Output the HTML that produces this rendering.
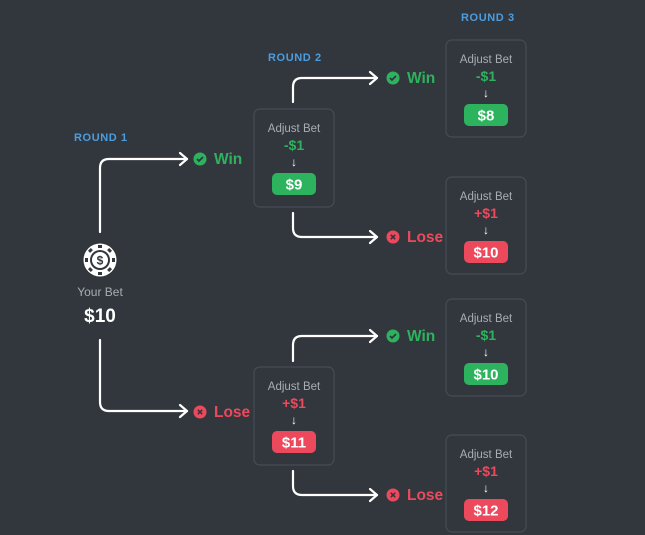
<!DOCTYPE html>
<html><head><meta charset="utf-8"><style>
html,body{margin:0;padding:0;background:#32373e;}
svg{display:block;font-family:"Liberation Sans",sans-serif;}
</style></head><body>
<svg width="645" height="535" viewBox="0 0 645 535" xmlns="http://www.w3.org/2000/svg">
<rect width="645" height="535" fill="#32373e"/>
<defs>
<g id="chk"><circle r="6.5" fill="#2db35d"/><path d="M-3,0 L-1,2 L3,-2" stroke="#32373e" stroke-width="1.8" fill="none"/></g>
<g id="x"><circle r="6.5" fill="#ec4a5c"/><path d="M-2.2,-2.2 L2.2,2.2 M2.2,-2.2 L-2.2,2.2" stroke="#32373e" stroke-width="1.6"/></g>
</defs>
<g font-weight="bold" font-size="11" fill="#4b9de0" letter-spacing="0.6">
<text x="74" y="141">ROUND 1</text>
<text x="268" y="61">ROUND 2</text>
<text x="461" y="21">ROUND 3</text>
</g>
<g stroke="#fff" stroke-width="2.2" fill="none" stroke-linecap="round" stroke-linejoin="round">
<path d="M100,232 V168 Q100,159 109,159 H187"/><path d="M180,153 L187,159 L180,165"/>
<path d="M100,340 V402 Q100,411 109,411 H187"/><path d="M180,405 L187,411 L180,417"/>
<path d="M293,102 V87 Q293,78 302,78 H377"/><path d="M370,72 L377,78 L370,84"/>
<path d="M293,213 V228 Q293,237 302,237 H377"/><path d="M370,231 L377,237 L370,243"/>
<path d="M293,361 V345 Q293,336 302,336 H377"/><path d="M370,330 L377,336 L370,342"/>
<path d="M293,471 V486 Q293,495 302,495 H377"/><path d="M370,489 L377,495 L370,501"/>
</g>
<g font-weight="bold" font-size="15.5">
<use href="#chk" x="200" y="159"/><text x="214" y="164" fill="#2db35d">Win</text>
<use href="#x" x="200" y="412"/><text x="214" y="417" fill="#ec4a5c">Lose</text>
<use href="#chk" x="393" y="78"/><text x="407" y="83" fill="#2db35d">Win</text>
<use href="#x" x="393" y="237"/><text x="407" y="242" fill="#ec4a5c">Lose</text>
<use href="#chk" x="393" y="336"/><text x="407" y="341" fill="#2db35d">Win</text>
<use href="#x" x="393" y="495"/><text x="407" y="500" fill="#ec4a5c">Lose</text>
</g>
<g transform="translate(100,260)">
<circle r="16.5" fill="#fff"/>
<circle r="10" fill="#32373e"/>
<circle r="8" fill="#fff"/>
<g fill="#32373e"><rect x="-2" y="-15" width="4" height="3"/><rect x="-2" y="12" width="4" height="3"/><rect x="-15" y="-2" width="3" height="4"/><rect x="12" y="-2" width="3" height="4"/>
<rect x="-2" y="-15" width="4" height="3" transform="rotate(45)"/><rect x="-2" y="12" width="4" height="3" transform="rotate(45)"/><rect x="-2" y="-15" width="4" height="3" transform="rotate(-45)"/><rect x="-2" y="12" width="4" height="3" transform="rotate(-45)"/></g>
<text y="4.5" text-anchor="middle" font-size="12" font-weight="bold" fill="#32373e">$</text>
</g>
<text x="100" y="296" text-anchor="middle" font-size="12" fill="#a9adb3">Your Bet</text>
<text x="100" y="322" text-anchor="middle" font-size="19" font-weight="bold" fill="#fff">$10</text>
<g text-anchor="middle">
<g transform="translate(254,109)"><rect x="0" y="0" width="80" height="98" rx="6" fill="none" stroke="#474c54" stroke-width="1.2"/><text x="40" y="23" font-size="11.5" fill="#a9adb3">Adjust Bet</text><text x="40" y="41" font-size="14" font-weight="bold" fill="#2db35d">-$1</text><text x="40" y="57" font-size="12" font-weight="bold" fill="#fff">↓</text><rect x="18" y="64" width="44" height="22" rx="5" fill="#2db35d"/><text x="40" y="80.5" font-size="15" font-weight="bold" fill="#fff">$9</text></g>
<g transform="translate(254,367)"><rect x="0" y="0" width="80" height="98" rx="6" fill="none" stroke="#474c54" stroke-width="1.2"/><text x="40" y="23" font-size="11.5" fill="#a9adb3">Adjust Bet</text><text x="40" y="41" font-size="14" font-weight="bold" fill="#ec4a5c">+$1</text><text x="40" y="57" font-size="12" font-weight="bold" fill="#fff">↓</text><rect x="18" y="64" width="44" height="22" rx="5" fill="#ec4a5c"/><text x="40" y="80.5" font-size="15" font-weight="bold" fill="#fff">$11</text></g>
<g transform="translate(446,40)"><rect x="0" y="0" width="80" height="97" rx="6" fill="none" stroke="#474c54" stroke-width="1.2"/><text x="40" y="23" font-size="11.5" fill="#a9adb3">Adjust Bet</text><text x="40" y="41" font-size="14" font-weight="bold" fill="#2db35d">-$1</text><text x="40" y="57" font-size="12" font-weight="bold" fill="#fff">↓</text><rect x="18" y="64" width="44" height="22" rx="5" fill="#2db35d"/><text x="40" y="80.5" font-size="15" font-weight="bold" fill="#fff">$8</text></g>
<g transform="translate(446,177)"><rect x="0" y="0" width="80" height="97" rx="6" fill="none" stroke="#474c54" stroke-width="1.2"/><text x="40" y="23" font-size="11.5" fill="#a9adb3">Adjust Bet</text><text x="40" y="41" font-size="14" font-weight="bold" fill="#ec4a5c">+$1</text><text x="40" y="57" font-size="12" font-weight="bold" fill="#fff">↓</text><rect x="18" y="64" width="44" height="22" rx="5" fill="#ec4a5c"/><text x="40" y="80.5" font-size="15" font-weight="bold" fill="#fff">$10</text></g>
<g transform="translate(446,299)"><rect x="0" y="0" width="80" height="97" rx="6" fill="none" stroke="#474c54" stroke-width="1.2"/><text x="40" y="23" font-size="11.5" fill="#a9adb3">Adjust Bet</text><text x="40" y="41" font-size="14" font-weight="bold" fill="#2db35d">-$1</text><text x="40" y="57" font-size="12" font-weight="bold" fill="#fff">↓</text><rect x="18" y="64" width="44" height="22" rx="5" fill="#2db35d"/><text x="40" y="80.5" font-size="15" font-weight="bold" fill="#fff">$10</text></g>
<g transform="translate(446,435)"><rect x="0" y="0" width="80" height="97" rx="6" fill="none" stroke="#474c54" stroke-width="1.2"/><text x="40" y="23" font-size="11.5" fill="#a9adb3">Adjust Bet</text><text x="40" y="41" font-size="14" font-weight="bold" fill="#ec4a5c">+$1</text><text x="40" y="57" font-size="12" font-weight="bold" fill="#fff">↓</text><rect x="18" y="64" width="44" height="22" rx="5" fill="#ec4a5c"/><text x="40" y="80.5" font-size="15" font-weight="bold" fill="#fff">$12</text></g>
</g>
</svg>
</body></html>
